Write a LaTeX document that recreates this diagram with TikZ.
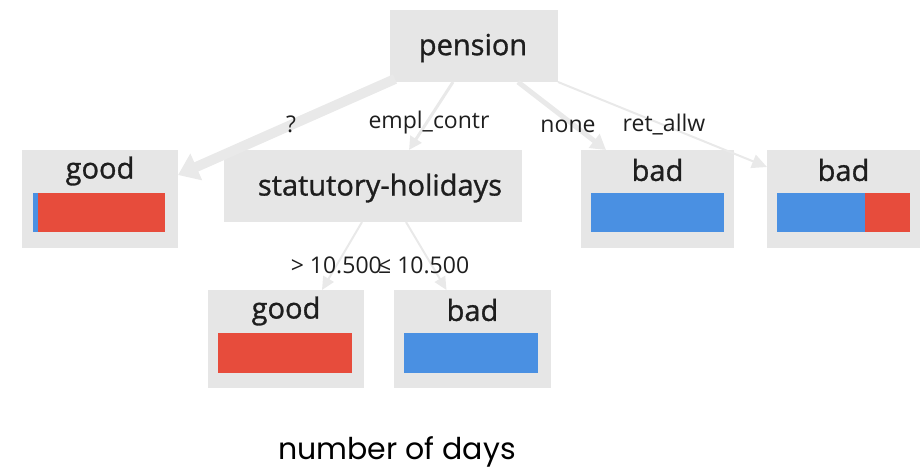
\documentclass[tikz,border=0pt]{standalone}
\usepackage{fontspec}
\setmainfont{Open Sans}
\newfontfamily\semibold[FakeBold=1]{Open Sans}
\newfontfamily\capfont{Poppins}
\usetikzlibrary{arrows.meta}
\definecolor{boxgray}{HTML}{E6E6E6}
\definecolor{edgegray}{HTML}{E9E9E9}
\definecolor{classred}{HTML}{E74C3C}
\definecolor{classblue}{HTML}{4A90E2}
\definecolor{inkdark}{HTML}{1E1E1E}
\tikzset{
  treebox/.style={fill=boxgray, inner sep=0pt, outer sep=0pt},
  boxtext/.style={font=\semibold\fontsize{29}{33}\selectfont, text=inkdark, inner sep=0pt},
  edgetext/.style={font=\fontsize{23}{27}\selectfont, text=inkdark, inner sep=0pt},
  branch/.style={draw=edgegray, line cap=butt}
}
\begin{document}
\begin{tikzpicture}[x=1pt, y=-1pt]
\useasboundingbox (0,0) rectangle (923,476);

% boxes
\node[treebox, minimum width=168pt, minimum height=72pt] (pension) at (474,46) {};
\node[treebox, minimum width=298pt, minimum height=72pt] (stat) at (373,186) {};
\node[treebox, minimum width=156pt, minimum height=98pt] (goodL) at (100,199) {};
\node[treebox, minimum width=153pt, minimum height=98pt] (badA) at (657.5,199) {};
\node[treebox, minimum width=153pt, minimum height=98pt] (badB) at (843.5,199) {};
\node[treebox, minimum width=156pt, minimum height=98pt] (goodB) at (286,339) {};
\node[treebox, minimum width=157pt, minimum height=98pt] (badC) at (472.5,339) {};

% box titles
\node[boxtext] (tPension) at (473,48) {pension};
\node[boxtext] (tStat) at (380,188) {statutory-holidays};
\node[boxtext] (tGoodL) at (100,171) {good};
\node[boxtext] (tBadA) at (657.5,170) {bad};
\node[boxtext] (tBadB) at (843.5,170) {bad};
\node[boxtext] (tGoodB) at (286,311) {good};
\node[boxtext] (tBadC) at (472.5,310) {bad};

% class distribution bars
\fill[classblue] (33,193) rectangle (38,232);
\fill[classred] (38,193) rectangle (165,232);
\fill[classblue] (591,193) rectangle (724,232);
\fill[classblue] (777,193) rectangle (865,232);
\fill[classred] (865,193) rectangle (910,232);
\fill[classred] (218,333) rectangle (352,373);
\fill[classblue] (404,333) rectangle (538,373);

% branches
\draw[branch, line width=10pt, -{Triangle[length=20pt,width=28pt]}]
  ([xshift=5pt,yshift=3pt]pension.south west) -- ([yshift=-25pt]goodL.north east);
\draw[branch, line width=3pt, -{Triangle[length=13pt,width=13pt]}]
  ([xshift=-21pt]pension.south) -- ([xshift=36pt]stat.north);
\draw[branch, line width=5pt, -{Triangle[length=15pt,width=17pt]}]
  ([xshift=44pt]pension.south) -- ([xshift=25pt]badA.north west);
\draw[branch, line width=2pt, -{Triangle[length=15pt,width=14pt]}]
  (pension.south east) -- ([yshift=-17pt]badB.north west);
\draw[branch, line width=2pt, -{Triangle[length=13pt,width=12pt]}]
  ([xshift=-11pt]stat.south) -- ([xshift=36pt]goodB.north);
\draw[branch, line width=2pt, -{Triangle[length=13pt,width=12pt]}]
  ([xshift=33pt]stat.south) -- ([xshift=-26pt]badC.north);

% branch labels
\node[edgetext] (lQ) at (291,124) {?};
\node[edgetext] (lEmpl) at (429,123) {empl\_contr};
\node[edgetext] (lNone) at (568,126) {none};
\node[edgetext] (lRet) at (664,125) {ret\_allw};
\node[edgetext, anchor=east] (lGt) at (382,265) {> 10.500};
\node[edgetext, anchor=west] (lLe) at (378,265) {≤ 10.500};

% caption
\node[font=\capfont\fontsize{30}{34}\selectfont, text=black, inner sep=0pt] (caption) at (397,452) {number of days};
\end{tikzpicture}
\end{document}
